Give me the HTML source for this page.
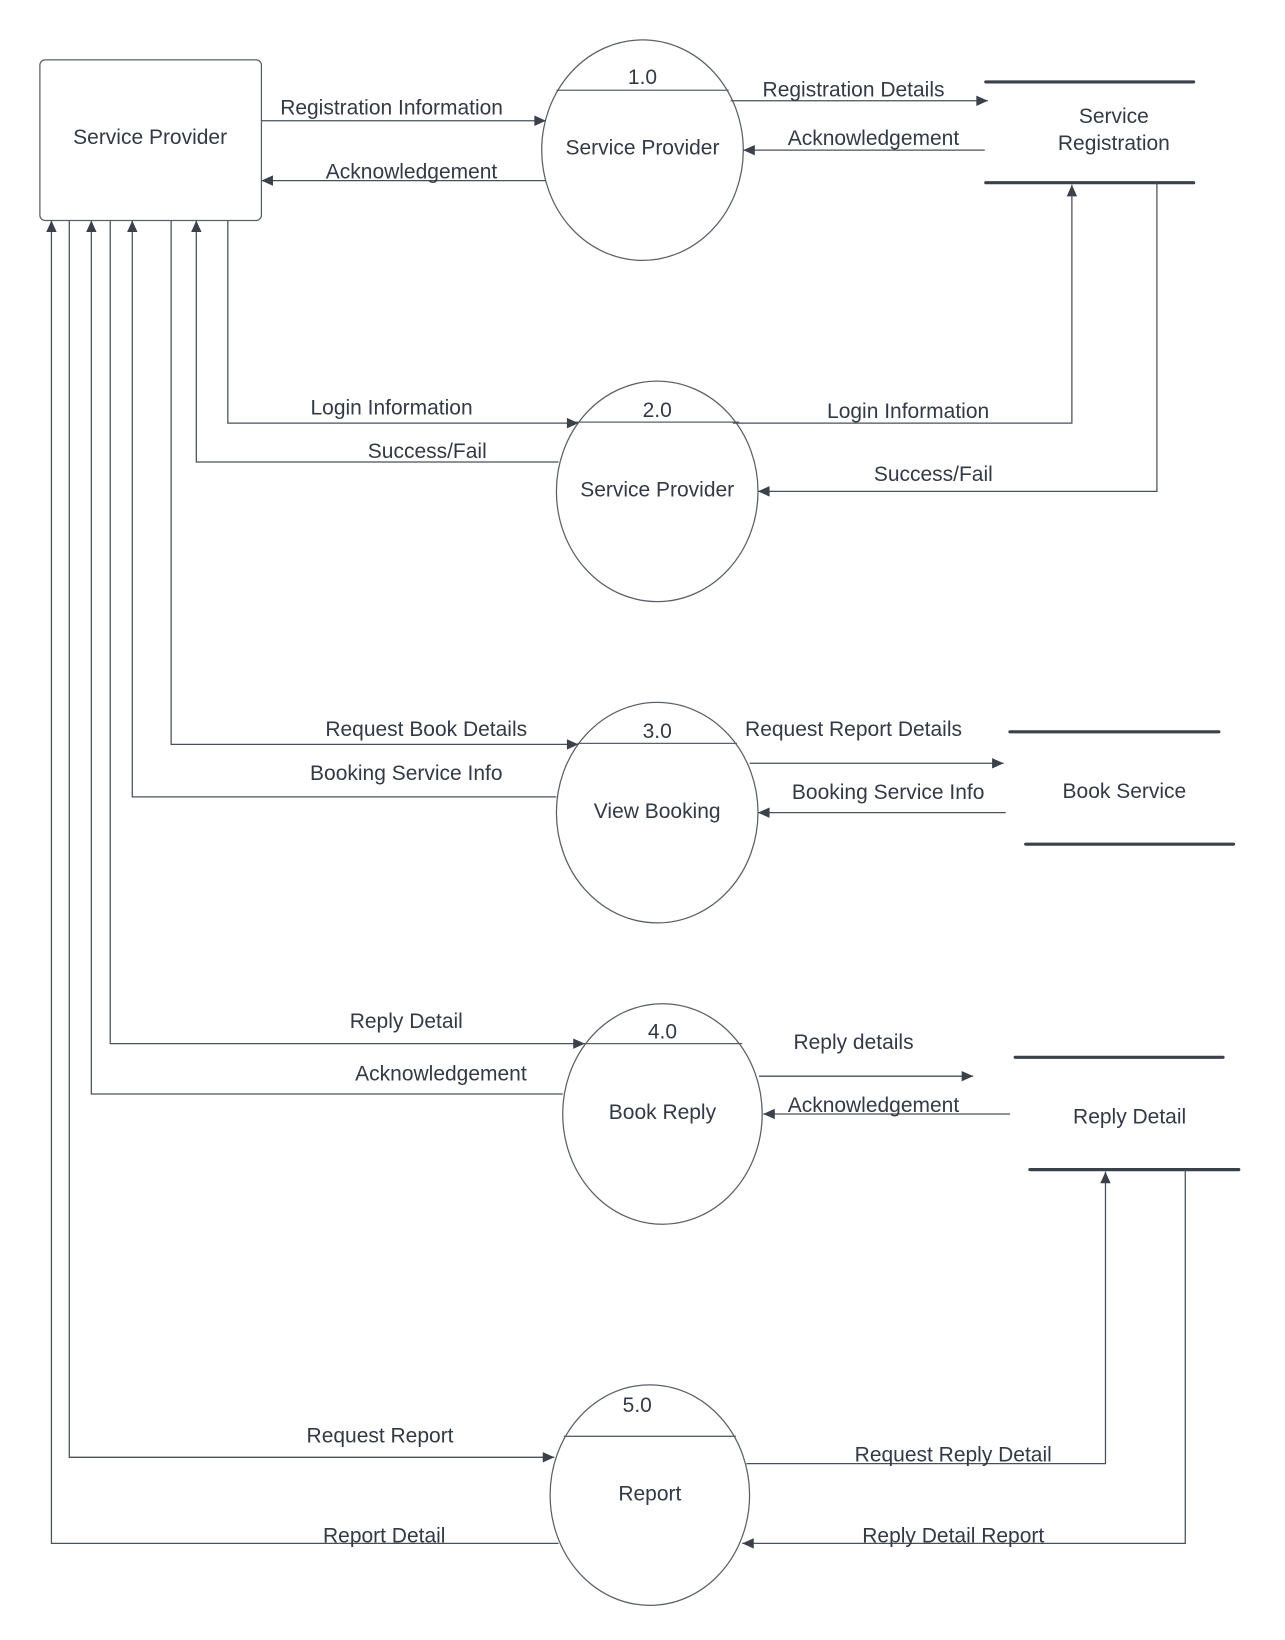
<!DOCTYPE html>
<html><head><style>html,body{margin:0;padding:0;background:#fff}svg{display:block}</style></head>
<body>
<svg width="1285" height="1640" viewBox="0 0 1224 1562" preserveAspectRatio="none" xmlns="http://www.w3.org/2000/svg">
<defs>
<marker id="a" viewBox="0 0 10 10" refX="10" refY="5" markerWidth="13" markerHeight="11" markerUnits="userSpaceOnUse" orient="auto"><path d="M0,0.5 L10,5 L0,9.5 z" fill="#3a414a"/></marker>
</defs>
<g fill="none" stroke="#5b6068" stroke-width="1.2">
<rect x="38" y="57" width="211" height="153" rx="5"/>
<ellipse cx="612" cy="143" rx="96" ry="105"/>
<line x1="530" y1="86" x2="694" y2="86"/>
<ellipse cx="626" cy="468" rx="96" ry="105"/>
<line x1="548" y1="402" x2="704" y2="402"/>
<ellipse cx="626" cy="774" rx="96" ry="105"/>
<line x1="550" y1="708" x2="702" y2="708"/>
<ellipse cx="631" cy="1061" rx="95" ry="105"/>
<line x1="555" y1="994" x2="707" y2="994"/>
<ellipse cx="619" cy="1424" rx="95" ry="105"/>
<line x1="537" y1="1368" x2="701" y2="1368"/>
</g>
<g stroke="#3a414a" stroke-width="3" stroke-linecap="round">
<line x1="939" y1="78" x2="1137" y2="78"/><line x1="939" y1="174" x2="1137" y2="174"/>
<line x1="962" y1="697" x2="1161" y2="697"/><line x1="977" y1="804" x2="1175" y2="804"/>
<line x1="967" y1="1007" x2="1165" y2="1007"/><line x1="981" y1="1114" x2="1180" y2="1114"/>
</g>
<g fill="none" stroke="#4a5058" stroke-width="1.2" marker-end="url(#a)">
<path d="M249,115 H520"/>
<path d="M520,172 H249"/>
<path d="M696,96 H941"/>
<path d="M938,143 H708"/>
<path d="M217,210 V403 H551"/>
<path d="M532,440 H187 V210"/>
<path d="M698,403 H1021 V176"/>
<path d="M1102,174 V468 H722"/>
<path d="M163,210 V709 H551"/>
<path d="M530,759 H126 V210"/>
<path d="M714,727 H956"/>
<path d="M958,774 H722"/>
<path d="M105,210 V994 H557"/>
<path d="M536,1042 H87 V210"/>
<path d="M723,1025 H927"/>
<path d="M962,1061 H727"/>
<path d="M66,210 V1388 H528"/>
<path d="M532,1470 H49 V210"/>
<path d="M711,1394 H1053 V1116"/>
<path d="M1129,1114 V1470 H707"/>
</g>
<g font-family="Liberation Sans, Arial, sans-serif" font-size="20" fill="#333a45" text-anchor="middle">
<text x="143" y="137">Service Provider</text>
<text x="612" y="80">1.0</text>
<text x="612" y="147">Service Provider</text>
<text x="626" y="397">2.0</text>
<text x="626" y="473">Service Provider</text>
<text x="626" y="703">3.0</text>
<text x="626" y="779">View Booking</text>
<text x="631" y="989">4.0</text>
<text x="631" y="1066">Book Reply</text>
<text x="607" y="1345">5.0</text>
<text x="619" y="1429">Report</text>
<text x="1061" y="117">Service</text>
<text x="1061" y="143">Registration</text>
<text x="1071" y="760">Book Service</text>
<text x="1076" y="1070">Reply Detail</text>
<text x="373" y="109">Registration Information</text>
<text x="392" y="170">Acknowledgement</text>
<text x="813" y="92">Registration Details</text>
<text x="832" y="138">Acknowledgement</text>
<text x="373" y="395">Login Information</text>
<text x="407" y="436">Success/Fail</text>
<text x="865" y="398">Login Information</text>
<text x="889" y="458">Success/Fail</text>
<text x="406" y="701">Request Book Details</text>
<text x="387" y="743">Booking Service Info</text>
<text x="813" y="701">Request Report Details</text>
<text x="846" y="761">Booking Service Info</text>
<text x="387" y="979">Reply Detail</text>
<text x="420" y="1029">Acknowledgement</text>
<text x="813" y="999">Reply details</text>
<text x="832" y="1059">Acknowledgement</text>
<text x="362" y="1374">Request Report</text>
<text x="366" y="1469">Report Detail</text>
<text x="908" y="1392">Request Reply Detail</text>
<text x="908" y="1469">Reply Detail Report</text>
</g>
</svg>
</body></html>
